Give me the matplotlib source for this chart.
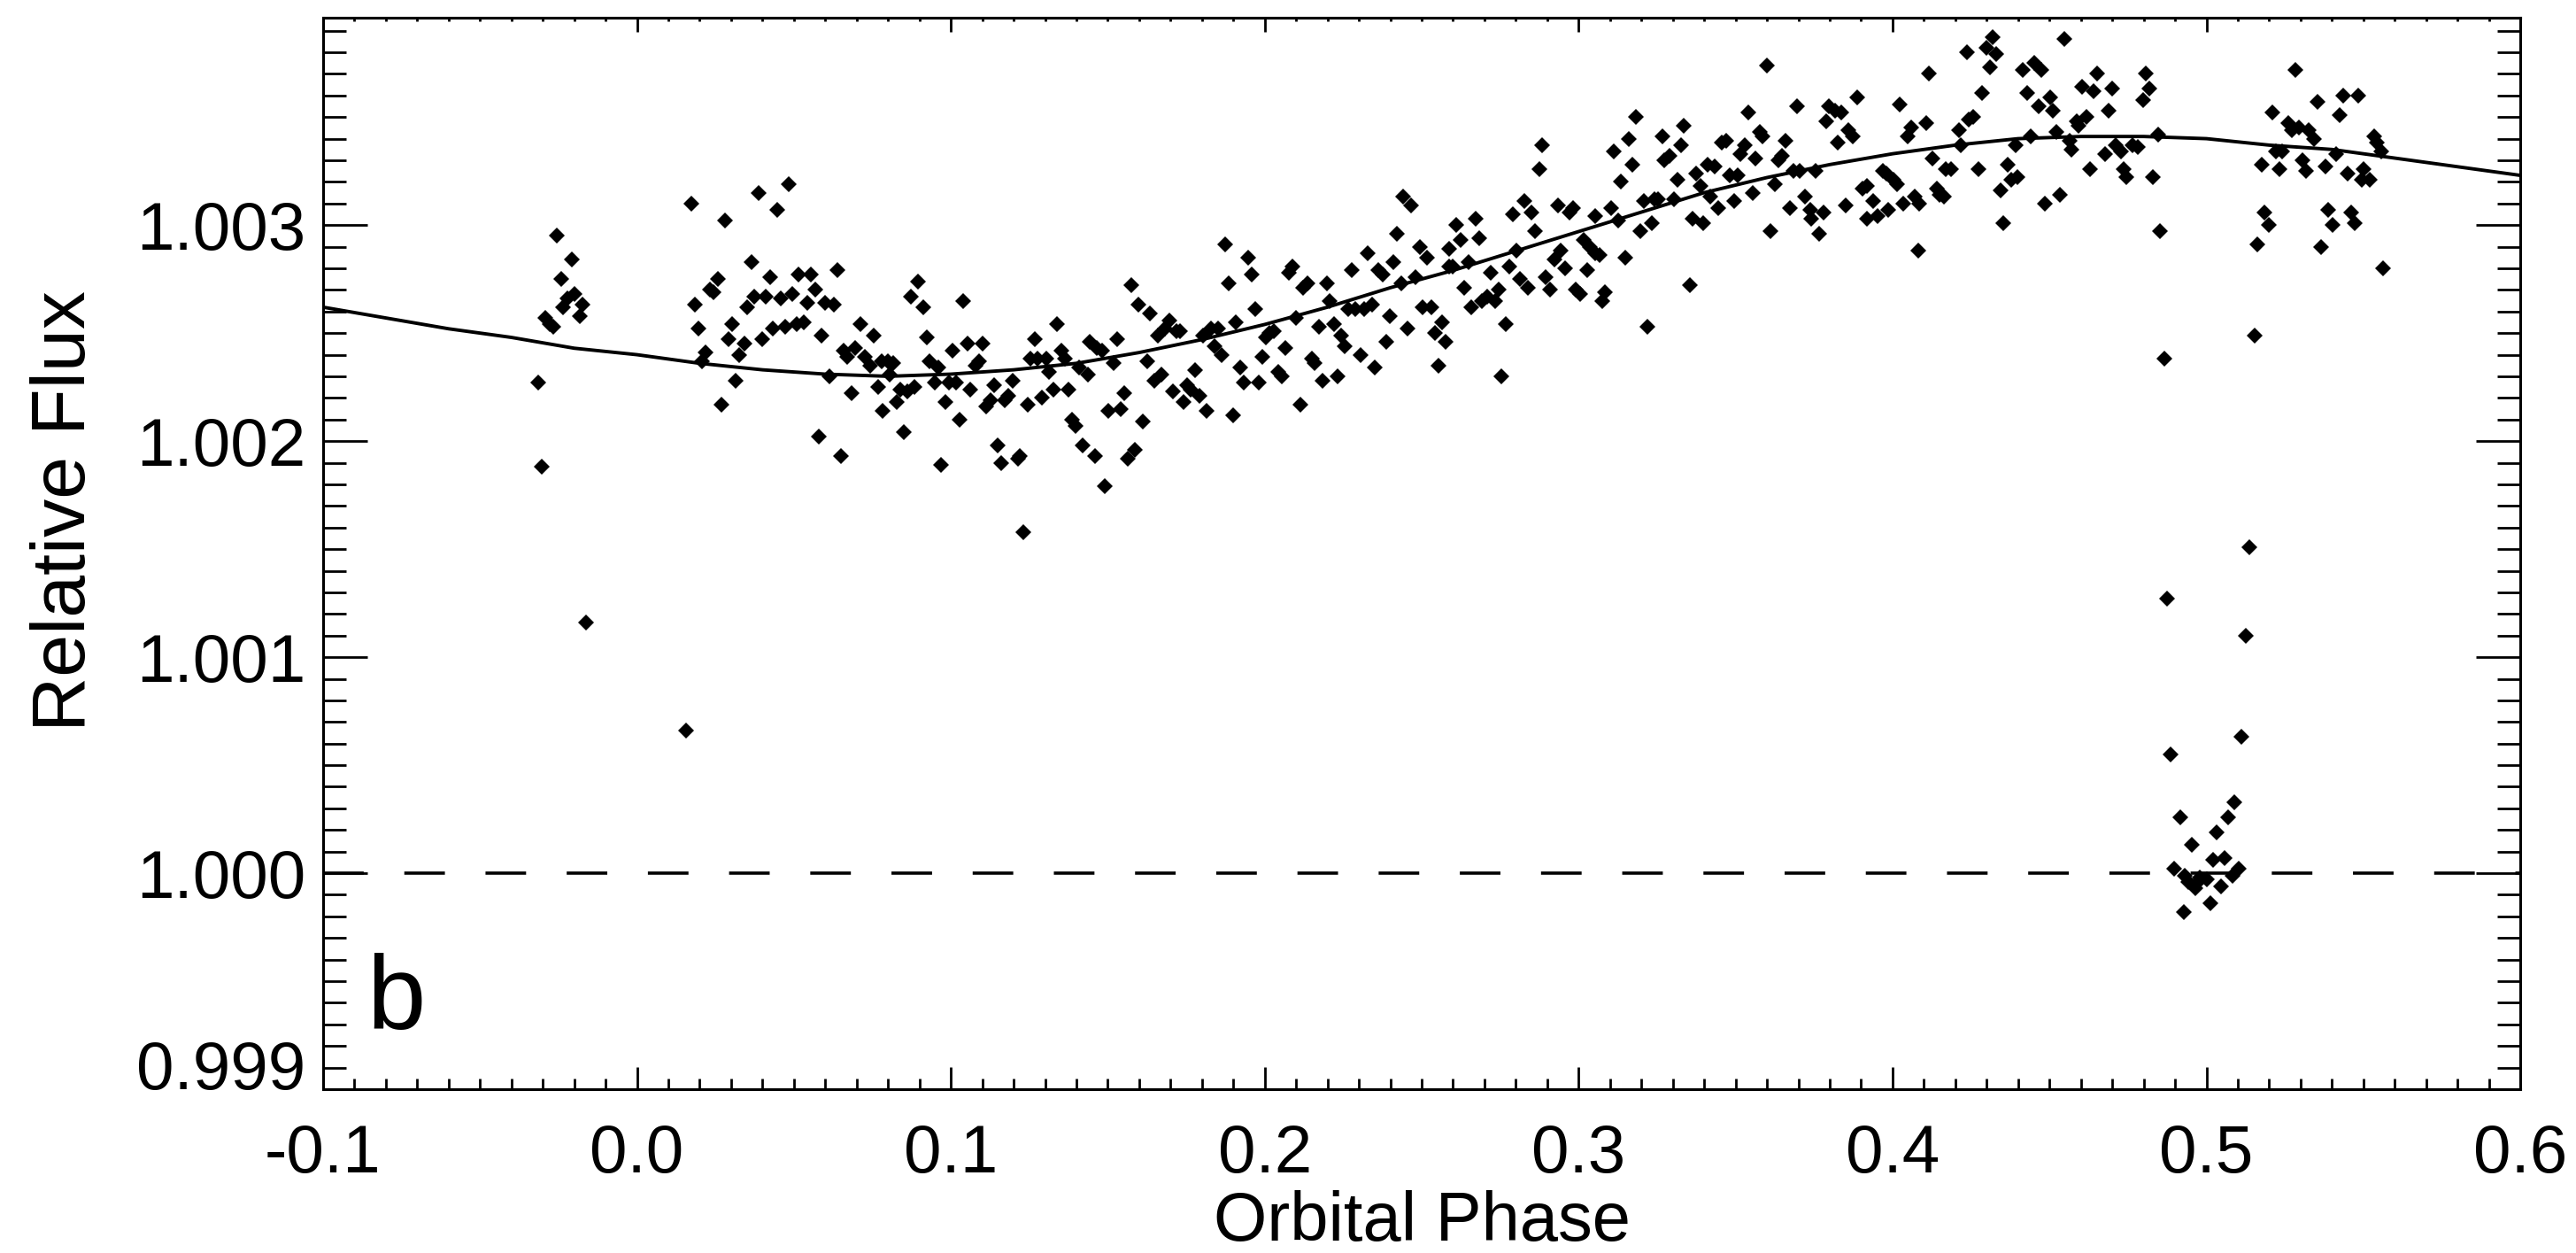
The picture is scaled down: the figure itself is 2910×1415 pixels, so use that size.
import numpy as np
import matplotlib
matplotlib.use('Agg')
import matplotlib.pyplot as plt
from matplotlib.ticker import MultipleLocator, FormatStrFormatter

plt.rcParams['font.family'] = ['Liberation Sans', 'DejaVu Sans']
plt.rcParams['axes.unicode_minus'] = False

# points before phase 0 (plus two low outliers)
phase_a = [-0.0256, -0.0208, -0.0242, -0.0222, -0.0199, -0.0236, -0.0174, -0.0182, -0.0292, -0.0278,
           -0.0267, -0.0315, -0.0304, -0.0163, 0.0156]
flux_a = [1.00295, 1.00284, 1.00275, 1.00266, 1.00268, 1.00262, 1.00263, 1.00258, 1.00257, 1.00254,
          1.00253, 1.00227, 1.00188, 1.00116, 1.00066]

phase_b = [0.0173, 0.0280, 0.0387, 0.0483, 0.0446, 0.0364, 0.0424, 0.0638, 0.0514, 0.0553,
           0.0257, 0.0232, 0.0243, 0.0184, 0.0373, 0.0410, 0.0457, 0.0494, 0.0542, 0.0567,
           0.0350, 0.0599, 0.0626, 0.0195, 0.0302, 0.0291, 0.0398, 0.0432, 0.0472, 0.0508,
           0.0531, 0.0587, 0.0342, 0.0218, 0.0325, 0.0207, 0.0314, 0.0269, 0.0612, 0.0579,
           0.0649, 0.0711, 0.0753, 0.0658, 0.0694, 0.0669, 0.0725, 0.0742, 0.0779, 0.0683,
           0.0768, 0.0782]
flux_b = [1.00310, 1.00302, 1.00315, 1.00319, 1.00307, 1.00283, 1.00276, 1.00279, 1.00277, 1.00277,
          1.00275, 1.00270, 1.00269, 1.00263, 1.00267, 1.00267, 1.00266, 1.00268, 1.00264, 1.00270,
          1.00262, 1.00264, 1.00263, 1.00252, 1.00254, 1.00247, 1.00247, 1.00252, 1.00253, 1.00254,
          1.00255, 1.00249, 1.00245, 1.00241, 1.00240, 1.00237, 1.00228, 1.00217, 1.00230, 1.00202,
          1.00193, 1.00254, 1.00249, 1.00242, 1.00243, 1.00239, 1.00239, 1.00235, 1.00237, 1.00222,
          1.00225, 1.00214]

phase_c = [0.0799, 0.0816, 0.0804, 0.0827, 0.0850, 0.0839, 0.0862, 0.0885, 0.0896, 0.0873,
           0.0911, 0.0923, 0.0931, 0.0960, 0.0948, 0.0983, 0.0969, 0.1006, 0.0994, 0.1017,
           0.1029, 0.1040, 0.1054, 0.1063, 0.1080, 0.1089, 0.1100, 0.1113, 0.1127, 0.1138,
           0.1150, 0.1161, 0.1173, 0.1184, 0.1198, 0.1213, 0.1221, 0.1232, 0.1244, 0.1253,
           0.1268, 0.1276, 0.1290, 0.1305, 0.1314, 0.1326, 0.1339, 0.1351, 0.1363, 0.1374,
           0.1386, 0.1397, 0.1409, 0.1420, 0.1437, 0.1443, 0.1460, 0.1466, 0.1483, 0.1491,
           0.1503, 0.1518, 0.1529, 0.1541, 0.1552, 0.1564, 0.1575, 0.1587, 0.1598, 0.1613,
           0.1625, 0.1635, 0.1648, 0.1659, 0.1671, 0.1682, 0.1696, 0.1708, 0.1719, 0.1731,
           0.1742, 0.1754, 0.1765, 0.1779, 0.1791, 0.1803, 0.1815, 0.1829, 0.1840, 0.1852,
           0.1863, 0.1875, 0.1886, 0.1898, 0.1909, 0.1921, 0.1932, 0.1947, 0.1959, 0.1970,
           0.1982, 0.1993, 0.2005, 0.2016, 0.2028, 0.2042, 0.2053, 0.2065, 0.2076, 0.2088,
           0.2099, 0.2113, 0.2122, 0.2136, 0.2151, 0.2159, 0.2174, 0.2185, 0.2197, 0.2208,
           0.2220, 0.2231, 0.2243, 0.2254, 0.2266, 0.2278, 0.2289, 0.2304, 0.2318, 0.2329,
           0.2341, 0.2350, 0.2362, 0.2375, 0.2387, 0.2398, 0.2410, 0.2421, 0.2435, 0.2456,
           0.2481, 0.2493, 0.2504, 0.2516, 0.2531, 0.2542, 0.2554, 0.2565, 0.2577, 0.2588,
           0.2588, 0.2440, 0.2467]
flux_c = [1.00237, 1.00236, 1.00231, 1.00218, 1.00204, 1.00224, 1.00223, 1.00225, 1.00274, 1.00267,
          1.00262, 1.00248, 1.00237, 1.00234, 1.00227, 1.00218, 1.00189, 1.00242, 1.00227, 1.00227,
          1.00210, 1.00265, 1.00245, 1.00224, 1.00235, 1.00237, 1.00245, 1.00216, 1.00219, 1.00226,
          1.00198, 1.00190, 1.00219, 1.00221, 1.00228, 1.00192, 1.00193, 1.00158, 1.00217, 1.00238,
          1.00247, 1.00238, 1.00220, 1.00238, 1.00232, 1.00224, 1.00254, 1.00242, 1.00238, 1.00224,
          1.00210, 1.00207, 1.00234, 1.00198, 1.00231, 1.00246, 1.00193, 1.00243, 1.00242, 1.00179,
          1.00214, 1.00236, 1.00247, 1.00215, 1.00222, 1.00192, 1.00272, 1.00196, 1.00263, 1.00209,
          1.00237, 1.00259, 1.00228, 1.00249, 1.00231, 1.00252, 1.00256, 1.00223, 1.00251, 1.00251,
          1.00218, 1.00226, 1.00224, 1.00233, 1.00221, 1.00249, 1.00214, 1.00252, 1.00244, 1.00252,
          1.00240, 1.00291, 1.00273, 1.00212, 1.00255, 1.00234, 1.00227, 1.00285, 1.00277, 1.00261,
          1.00227, 1.00239, 1.00248, 1.00250, 1.00251, 1.00232, 1.00230, 1.00243, 1.00278, 1.00281,
          1.00257, 1.00217, 1.00271, 1.00273, 1.00238, 1.00236, 1.00253, 1.00228, 1.00273, 1.00265,
          1.00254, 1.00230, 1.00249, 1.00244, 1.00261, 1.00279, 1.00261, 1.00240, 1.00261, 1.00287,
          1.00263, 1.00234, 1.00279, 1.00277, 1.00246, 1.00258, 1.00283, 1.00296, 1.00273, 1.00252,
          1.00276, 1.00290, 1.00262, 1.00285, 1.00262, 1.00250, 1.00235, 1.00255, 1.00246, 1.00289,
          1.00281, 1.00313, 1.00309]

phase_d = [0.3601, 0.3183, 0.3336, 0.3541, 0.3697, 0.3886, 0.3797, 0.3818, 0.3838, 0.2884,
           0.2876, 0.3111, 0.3161, 0.3171, 0.3135, 0.3267, 0.3274, 0.3289, 0.3327, 0.3314,
           0.3373, 0.3387, 0.3410, 0.3433, 0.3455, 0.3470, 0.3529, 0.3516, 0.3564, 0.3576,
           0.3586, 0.3660, 0.3636, 0.3649, 0.3790, 0.3826, 0.3858, 0.3873, 0.3684, 0.3705,
           0.3755, 0.3624, 0.3480, 0.3506, 0.3554, 0.3494, 0.3445, 0.3420, 0.3304, 0.3254,
           0.3242, 0.3209, 0.3232, 0.3196, 0.3125, 0.3103, 0.3053, 0.2970, 0.2982, 0.2935,
           0.2851, 0.2826, 0.2791, 0.2861, 0.2803, 0.2778, 0.2813, 0.2839, 0.2896, 0.2909,
           0.2922, 0.2944, 0.2957, 0.2992, 0.3004, 0.3017, 0.3035, 0.3053, 0.3068, 0.3027,
           0.3083, 0.3076, 0.3148, 0.3219, 0.3353, 0.3363, 0.3397, 0.3611, 0.3672, 0.3720,
           0.3737, 0.3742, 0.3767, 0.3779, 0.3850, 0.2610, 0.2625, 0.2672, 0.2683, 0.2599,
           0.2650, 0.2635, 0.2658, 0.2693, 0.2708, 0.2720, 0.2733, 0.2745, 0.2768, 0.2755]
flux_d = [1.00374, 1.00350, 1.00346, 1.00352, 1.00355, 1.00359, 1.00355, 1.00353, 1.00352, 1.00337,
          1.00326, 1.00334, 1.00340, 1.00328, 1.00320, 1.00341, 1.00330, 1.00332, 1.00337, 1.00321,
          1.00324, 1.00318, 1.00328, 1.00327, 1.00338, 1.00339, 1.00337, 1.00333, 1.00331, 1.00343,
          1.00341, 1.00339, 1.00330, 1.00332, 1.00348, 1.00338, 1.00344, 1.00341, 1.00325, 1.00325,
          1.00325, 1.00319, 1.00323, 1.00323, 1.00315, 1.00311, 1.00308, 1.00313, 1.00312, 1.00312,
          1.00312, 1.00311, 1.00301, 1.00297, 1.00302, 1.00308, 1.00304, 1.00306, 1.00308, 1.00309,
          1.00306, 1.00311, 1.00305, 1.00297, 1.00288, 1.00281, 1.00275, 1.00271, 1.00276, 1.00270,
          1.00284, 1.00288, 1.00280, 1.00270, 1.00268, 1.00293, 1.00290, 1.00287, 1.00286, 1.00279,
          1.00269, 1.00265, 1.00285, 1.00253, 1.00272, 1.00303, 1.00301, 1.00297, 1.00308, 1.00313,
          1.00307, 1.00303, 1.00296, 1.00306, 1.00309, 1.00300, 1.00293, 1.00303, 1.00294, 1.00281,
          1.00283, 1.00271, 1.00262, 1.00265, 1.00267, 1.00278, 1.00265, 1.00270, 1.00254, 1.00230]

phase_e = [0.4320, 0.4298, 0.4331, 0.4310, 0.4237, 0.4116, 0.4546, 0.4416, 0.4451, 0.4474,
           0.4023, 0.4285, 0.4429, 0.4465, 0.4503, 0.4510, 0.4651, 0.4605, 0.4641, 0.4699,
           0.4808, 0.4818, 0.4797, 0.4688, 0.4618, 0.4586, 0.4593, 0.4106, 0.4058, 0.4048,
           0.4212, 0.4256, 0.4244, 0.4218, 0.4128, 0.4169, 0.4186, 0.4273, 0.4392, 0.4440,
           0.4523, 0.4564, 0.4571, 0.4676, 0.4712, 0.4727, 0.4765, 0.4782, 0.4845, 0.4629,
           0.4368, 0.4397, 0.4379, 0.4735, 0.4746, 0.4830, 0.3968, 0.3980, 0.4004, 0.4015,
           0.3917, 0.3903, 0.3939, 0.4070, 0.4084, 0.4033, 0.3985, 0.3951, 0.3917, 0.4142,
           0.4150, 0.4164, 0.4343, 0.4484, 0.4532, 0.4081, 0.4353, 0.4852, 0.4866]
flux_e = [1.00387, 1.00382, 1.00379, 1.00373, 1.00380, 1.00370, 1.00386, 1.00372, 1.00375, 1.00372,
          1.00356, 1.00361, 1.00361, 1.00355, 1.00359, 1.00353, 1.00370, 1.00364, 1.00362, 1.00363,
          1.00370, 1.00363, 1.00358, 1.00353, 1.00350, 1.00348, 1.00346, 1.00347, 1.00345, 1.00341,
          1.00344, 1.00350, 1.00349, 1.00337, 1.00331, 1.00326, 1.00326, 1.00326, 1.00337, 1.00341,
          1.00343, 1.00339, 1.00335, 1.00333, 1.00337, 1.00334, 1.00337, 1.00336, 1.00342, 1.00326,
          1.00328, 1.00322, 1.00321, 1.00326, 1.00322, 1.00322, 1.00325, 1.00324, 1.00321, 1.00319,
          1.00318, 1.00317, 1.00311, 1.00313, 1.00310, 1.00310, 1.00307, 1.00304, 1.00303, 1.00317,
          1.00314, 1.00313, 1.00316, 1.00310, 1.00314, 1.00288, 1.00301, 1.00297, 1.00238]

# secondary eclipse
phase_f = [0.4875, 0.4887, 0.4916, 0.5070, 0.5090, 0.5033, 0.4952, 0.5058, 0.5022, 0.4898,
           0.5102, 0.5084, 0.4942, 0.4968, 0.4964, 0.5047, 0.5012, 0.4927, 0.4978, 0.5000,
           0.4930, 0.5110, 0.5124, 0.5137]
flux_f = [1.00127, 1.00055, 1.00026, 1.00026, 1.00033, 1.00019, 1.00013, 1.00007, 1.00006, 1.00002,
          1.00002, 0.99999, 0.99996, 0.99995, 0.99993, 0.99994, 0.99986, 0.99982, 0.99998, 0.99997,
          0.99999, 1.00063, 1.00110, 1.00151]

phase_g = [0.5153, 0.5283, 0.5211, 0.5262, 0.5273, 0.5294, 0.5327, 0.5342, 0.5353, 0.5436,
           0.5484, 0.5424, 0.5221, 0.5240, 0.5414, 0.5175, 0.5233, 0.5305, 0.5317, 0.5378,
           0.5450, 0.5501, 0.5494, 0.5520, 0.5533, 0.5542, 0.5557, 0.5186, 0.5199, 0.5163,
           0.5388, 0.5403, 0.5366, 0.5460, 0.5472, 0.5563]
flux_g = [1.00249, 1.00372, 1.00352, 1.00347, 1.00344, 1.00345, 1.00344, 1.00340, 1.00357, 1.00360,
          1.00360, 1.00351, 1.00334, 1.00334, 1.00333, 1.00328, 1.00326, 1.00330, 1.00325, 1.00327,
          1.00324, 1.00326, 1.00321, 1.00321, 1.00341, 1.00338, 1.00334, 1.00306, 1.00300, 1.00291,
          1.00307, 1.00300, 1.00290, 1.00306, 1.00301, 1.00280]

model_phase = [-0.10, -0.08, -0.06, -0.04, -0.02, 0.00, 0.02, 0.04, 0.06, 0.08,
               0.10, 0.12, 0.14, 0.16, 0.18, 0.20, 0.22, 0.24, 0.26, 0.28,
               0.30, 0.32, 0.34, 0.36, 0.38, 0.40, 0.42, 0.44, 0.46, 0.48,
               0.50, 0.52, 0.54, 0.56, 0.58, 0.60]
model_flux = [1.00262, 1.00257, 1.00252, 1.00248, 1.00243, 1.00240, 1.00236, 1.00233, 1.00231, 1.00230,
              1.00231, 1.00233, 1.00236, 1.00241, 1.00247, 1.00254, 1.00262, 1.00271, 1.00279, 1.00288,
              1.00297, 1.00306, 1.00315, 1.00322, 1.00328, 1.00333, 1.00337, 1.00340, 1.00341, 1.00341,
              1.00340, 1.00337, 1.00335, 1.00331, 1.00327, 1.00323]

x_ticks = [-0.1, 0.0, 0.1, 0.2, 0.3, 0.4, 0.5, 0.6]
y_ticks = [0.999, 1.000, 1.001, 1.002, 1.003]

phase = np.concatenate([phase_a, phase_b, phase_c, phase_d, phase_e, phase_f, phase_g])
flux = np.concatenate([flux_a, flux_b, flux_c, flux_d, flux_e, flux_f, flux_g])

fig = plt.figure(figsize=(29.1, 14.15), dpi=100)
ax = fig.add_axes([0.1254, 0.1307, 0.8530, 0.8552])

ax.plot(phase, flux, 'D', color='k', ms=9, mew=0)
ax.plot(model_phase, model_flux, '-', color='k', lw=2.8)
ax.axhline(1.0, color='k', lw=2.6, dashes=(12.7, 12.7))

ax.set_xlim(-0.1, 0.6)
ax.set_ylim(0.999, 1.00396)

ax.set_xticks(x_ticks)
ax.set_yticks(y_ticks)
ax.xaxis.set_minor_locator(MultipleLocator(0.01))
ax.yaxis.set_minor_locator(MultipleLocator(0.0001))
ax.xaxis.set_major_formatter(FormatStrFormatter('%.1f'))
ax.yaxis.set_major_formatter(FormatStrFormatter('%.3f'))

ax.tick_params(axis='x', which='both', direction='in', top=False, bottom=True, width=2)
ax.tick_params(axis='x', which='major', length=18, pad=28, labelsize=55)
ax.tick_params(axis='x', which='minor', length=8.6)
ax.tick_params(axis='y', which='both', direction='in', left=True, right=True, width=2)
ax.tick_params(axis='y', which='major', length=36, pad=14, labelsize=55)
ax.tick_params(axis='y', which='minor', length=18.5)

# top axis has its own (shorter) ticks
sec = ax.secondary_xaxis('top')
sec.set_xticks(x_ticks)
sec.set_xticklabels([])
sec.xaxis.set_minor_locator(MultipleLocator(0.01))
sec.tick_params(which='both', direction='in', width=2)
sec.tick_params(which='major', length=11.5)
sec.tick_params(which='minor', length=3)
sec.spines['top'].set_linewidth(2.2)

for s in ax.spines.values():
    s.set_linewidth(2.2)

ax.yaxis.get_major_ticks()[0].label1.set_verticalalignment('baseline')

ax.set_xlabel('Orbital Phase', fontsize=56)
ax.xaxis.set_label_coords(0.5, -0.094)
ax.set_ylabel('Relative Flux', fontsize=62)
ax.yaxis.set_label_coords(-0.1010, 0.54)

ax.text(0.0201, 0.0562, 'b', transform=ax.transAxes, fontsize=86, ha='left', va='baseline')

fig.savefig('out.png', dpi=100)
